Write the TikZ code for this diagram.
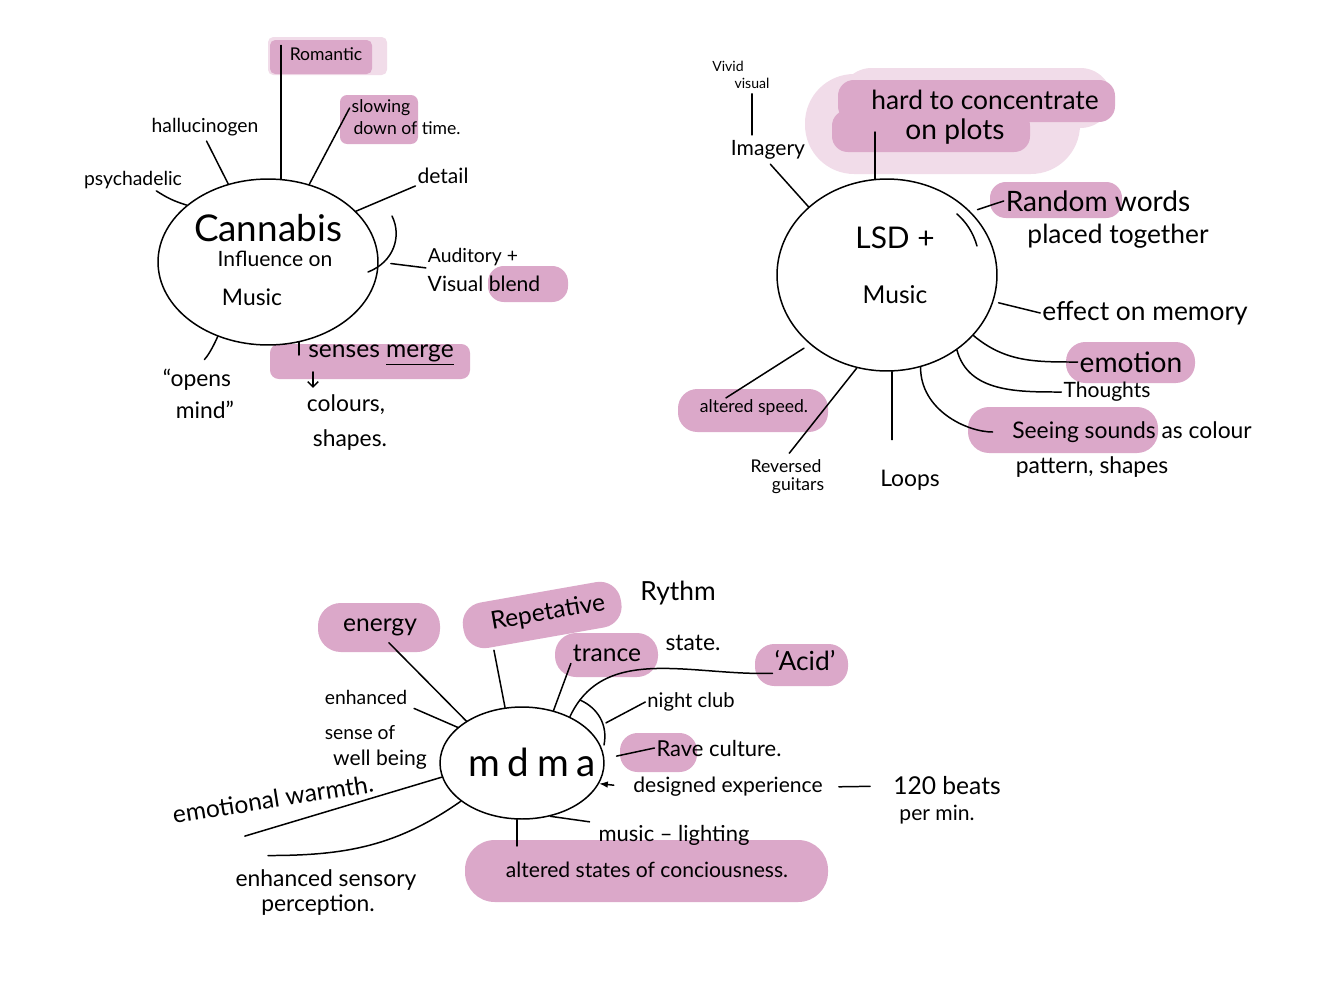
\documentclass[tikz,border=0pt]{standalone}
\usepackage{fontspec}
\setmainfont{Lato}
\usepackage{tikz}
\usetikzlibrary{shapes.geometric,arrows.meta,positioning,calc}
\definecolor{mauve}{RGB}{219,168,201}
\definecolor{mauvelight}{RGB}{241,220,233}
\newcommand{\fsz}[1]{\fontsize{#1}{#1}\selectfont}

\begin{document}
\begin{tikzpicture}[x=0.02cm, y=-0.02cm,
    hub/.style={ellipse, draw, line width=0.85pt, inner sep=0pt},
    lbl/.style={inner sep=1pt},
    link/.style={line width=0.85pt, line cap=round},
    hl/.style={fill=mauve, rounded corners=9pt},
    halo/.style={fill=mauvelight, rounded corners=16pt}
]
    \fill[white] (0,0) rectangle (1318,984);
    \useasboundingbox (0,0) rectangle (1318,984);

    % highlighter marks
    \fill[halo, rounded corners=3pt] (268,37) rectangle (387,75);
    \fill[hl, rounded corners=3pt] (270,40) rectangle (372,74);
    \fill[hl, rounded corners=4pt] (340,95) rectangle (418,144);
    \fill[hl] (488,266) rectangle (568,302);
    \fill[hl, rounded corners=5pt] (270,344) rectangle (470,379);
    \fill[halo, rounded corners=28pt] (805,74) rectangle (1080,174);
    \fill[halo, rounded corners=18pt] (840,68) rectangle (1112,128);
    \fill[hl] (838,80) rectangle (1115,122);
    \fill[hl] (832,110) rectangle (1030,152);
    \fill[hl] (990,182) rectangle (1122,218);
    \fill[hl, rounded corners=11pt] (1066,342) rectangle (1195,383);
    \fill[hl, rounded corners=12pt] (968,407) rectangle (1158,453);
    \fill[hl, rounded corners=11pt] (678,389) rectangle (828,432);
    \fill[hl, rounded corners=13pt] (318,603) rectangle (440,652);
    \fill[hl, rounded corners=12pt, rotate around={10:(542,614)}] (462,592) rectangle (622,638);
    \fill[hl, rounded corners=12pt] (555,633) rectangle (658,677);
    \fill[hl, rounded corners=11pt] (755,644) rectangle (848,686);
    \fill[hl, rounded corners=10pt] (620,733) rectangle (697,772);
    \fill[hl, rounded corners=17pt] (465,840) rectangle (828,902);

    % Cannabis
    \node[hub, minimum width=4.4cm, minimum height=3.32cm] (can) at (268,262) {};
    \node[lbl, font=\fsz{21}] (cantitle) at (268,228) {Cannabis};
    \node[lbl, font=\fsz{12}] (caninfl) at (275,259) {Influence on};
    \node[lbl, font=\fsz{13}] (canmus) at (252,297) {Music};
    \node[lbl, font=\fsz{10}] (roman) at (326,54) {Romantic};
    \node[lbl, font=\fsz{10}] (slow) at (381,108) {slowing};
    \node[lbl, font=\fsz{10}] (slowb) at (407,128) {down of time.};
    \node[lbl, font=\fsz{11}] (hallu) at (205,127) {hallucinogen};
    \node[lbl, font=\fsz{11}] (psy) at (133,180) {psychadelic};
    \node[lbl, font=\fsz{12}] (detail) at (443,176) {detail};
    \node[lbl, font=\fsz{11}] (aud) at (473,257) {Auditory +};
    \node[lbl, font=\fsz{12}] (vis) at (484,284) {Visual blend};
    \node[lbl, font=\fsz{14}] (senses) at (381,355) {senses \underline{merge}};
    \node[lbl, font=\fsz{13}] (colours) at (346,405) {colours,};
    \node[lbl, font=\fsz{13}] (shapes) at (350,440) {shapes.};
    \node[lbl, font=\fsz{13}] (opens) at (197,380) {``opens};
    \node[lbl, font=\fsz{13}] (mind) at (205,410) {mind''};

    \draw[link] (can.81) -- (can.81 |- roman.north);
    \draw[link] (can.62) -- (slow.west);
    \draw[link, shorten >=2pt] (can.117) -- (hallu.south);
    \draw[link] (can.145) to[bend left=8] (psy.-25);
    \draw[link] (can.30) -- (detail.south west);
    \draw[link] (392,216) .. controls (402,236) and (394,262) .. (368,272);
    \draw[link, shorten <=7pt] (can.east) -- (aud.south west);
    \draw[link, shorten >=6pt] (can.236) to[bend left=10] (opens.north);
    \draw[link] (can.291) -- (can.291 |- senses.center);
    \draw[link, -{Straight Barb[length=3pt]}] ($(colours.north)+(-33,-21)$) -- ($(colours.north)+(-33,-5)$);

    % LSD
    \node[hub, minimum width=4.4cm, minimum height=3.84cm] (lsd) at (887,275) {};
    \node[lbl, font=\fsz{17}] (lsdtitle) at (895,238) {LSD +};
    \node[lbl, font=\fsz{14}] (lsdmus) at (895,295) {Music};
    \node[lbl, font=\fsz{8}] (vivid) at (728,66) {Vivid};
    \node[lbl, font=\fsz{8}] (visual) at (752,83) {visual};
    \node[lbl, font=\fsz{12}] (imag) at (768,150) {Imagery};
    \node[lbl, font=\fsz{15}] (hard) at (985,100) {hard to concentrate};
    \node[lbl, font=\fsz{16}] (plots) at (955,132) {on plots};
    \node[lbl, font=\fsz{16}] (rand) at (1098,201) {Random words};
    \node[lbl, font=\fsz{15}] (placed) at (1118,236) {placed together};
    \node[lbl, font=\fsz{15}] (effect) at (1145,313) {effect on memory};
    \node[lbl, font=\fsz{16}] (emo) at (1131,362) {emotion};
    \node[lbl, font=\fsz{12}] (thou) at (1107,392) {Thoughts};
    \node[lbl, font=\fsz{13}] (seeing) at (1132,432) {Seeing sounds as colour};
    \node[lbl, font=\fsz{13}] (pattern) at (1092,467) {pattern, shapes};
    \node[lbl, font=\fsz{13}] (loops) at (910,480) {Loops};
    \node[lbl, font=\fsz{10}] (rev) at (786,466) {Reversed};
    \node[lbl, font=\fsz{10}] (guit) at (798,486) {guitars};
    \node[lbl, font=\fsz{10}] (speed) at (754,408) {altered speed.};

    \draw[link, shorten >=2pt] (lsd.139) -- (imag.south);
    \draw[link, shorten <=2pt, shorten >=2pt] (visual.south) -- (visual.south |- imag.north);
    \draw[link] (lsd.97) -- (lsd.97 |- plots.center);
    \draw[link, shorten <=4pt] (lsd.37) -- (rand.west);
    \draw[link] (957,214) .. controls (966,222) and (973,232) .. (977,246);
    \draw[link, shorten <=3pt] (lsd.-14) -- (effect.west);
    \draw[link] (lsd.-35) to[out=-40, in=180] (emo.west);
    \draw[link] (lsd.-47) to[out=-75, in=180] (thou.west);
    \draw[link, shorten >=10pt] (lsd.-70) to[out=-90, in=180] (seeing.west);
    \draw[link, shorten >=16pt] (lsd.-87) -- (lsd.-87 |- loops.north);
    \draw[link, shorten >=3pt] (lsd.252) -- (rev.north);
    \draw[link, shorten <=4pt] (lsd.222) -- ($(speed.north)!0.5!(speed.north west)$);

    % MDMA
    \node[hub, minimum width=3.28cm, minimum height=2.24cm] (mdma) at (522,763) {};
    \node[lbl, font=\fsz{22}\addfontfeature{LetterSpace=20}] (mdmatitle) at (532,762) {mdma};
    \node[lbl, font=\fsz{14}] (energy) at (380,627) {energy};
    \node[lbl, font=\fsz{14}, rotate=10] (repet) at (548,613) {Repetative};
    \node[lbl, font=\fsz{15}] (rythm) at (678,593) {Rythm};
    \node[lbl, font=\fsz{14}] (trance) at (607,653) {trance};
    \node[lbl, font=\fsz{13}] (state) at (693,643) {state.};
    \node[lbl, font=\fsz{15}] (acid) at (805,661) {`Acid'};
    \node[lbl, font=\fsz{11.5}] (club) at (691,702) {night club};
    \node[lbl, font=\fsz{12.5}] (rave) at (719,748) {Rave culture.};
    \node[lbl, font=\fsz{12}] (design) at (728,787) {designed experience};
    \node[lbl, font=\fsz{14}] (beats) at (947,786) {120 beats};
    \node[lbl, font=\fsz{12}] (permin) at (937,815) {per min.};
    \node[lbl, font=\fsz{12.5}] (music) at (674,835) {music -- lighting};
    \node[lbl, font=\fsz{12}] (alt) at (647,870) {altered states of conciousness.};
    \node[lbl, font=\fsz{11}] (enh) at (366,697) {enhanced};
    \node[lbl, font=\fsz{11}] (senseof) at (360,733) {sense of};
    \node[lbl, font=\fsz{12}] (wellb) at (380,760) {well being};
    \node[lbl, font=\fsz{14}, rotate=9] (warmth) at (273,799) {emotional warmth.};
    \node[lbl, font=\fsz{13}] (sensory) at (326,880) {enhanced sensory};
    \node[lbl, font=\fsz{13}] (percep) at (318,905) {perception.};

    \draw[link, shorten >=4pt] (mdma.143) -- (energy.-70);
    \draw[link, shorten >=8pt] (mdma.107) -- (repet.south west);
    \draw[link] (mdma.59) -- (trance.south west);
    \draw[link] (mdma.44) to[out=65, in=182] (acid.south west);
    \draw[link] (580,700) .. controls (598,708) and (608,725) .. (604,745);
    \draw[link, shorten <=10pt] (mdma.25) -- (club.west);
    \draw[link, shorten <=7pt] (mdma.3) -- (rave.west);
    \draw[link, {Latex[length=5pt]}-, shorten >=10pt] (mdma.-15) -- (design.west);
    \draw[link, shorten <=8pt, shorten >=12pt] (design.east) -- (beats.west);
    \draw[link, shorten >=4pt] (mdma.-62) -- (music.north west);
    \draw[link, shorten >=8pt] (mdma.-95) -- (mdma.-95 |- alt.north);
    \draw[link, shorten >=3pt] (mdma.151) -- (enh.south east);
    \draw[link] (mdma.190) -- ($(warmth.south)+(-30,26)$);
    \draw[link] (mdma.212) to[out=215, in=0] ($(sensory.north)+(-58,-12)$);
\end{tikzpicture}
\end{document}
